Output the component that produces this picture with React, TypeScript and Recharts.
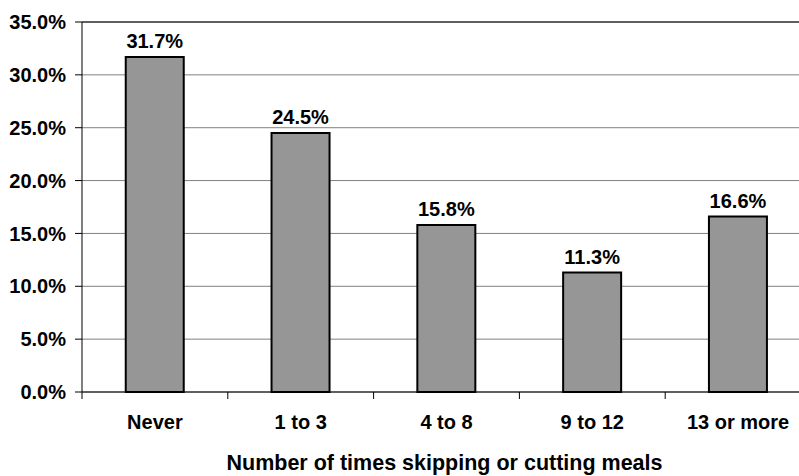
import { BarChart, Bar, XAxis, YAxis, CartesianGrid, LabelList, ReferenceLine } from 'recharts';

const categories = ['Never', '1 to 3', '4 to 8', '9 to 12', '13 or more'];
const shares = [0.317, 0.245, 0.158, 0.113, 0.166];
const yTicks = [0, 0.05, 0.1, 0.15, 0.2, 0.25, 0.3, 0.35];

const data = categories.map((name, i) => ({ name, share: shares[i] }));

const FONT = '"Liberation Sans", Arial, sans-serif';
const CHART_W = 812;
const CHART_H = 476;
const Y_AXIS_W = 82;
const MARGIN_R = 1;

const pct = (v: number) => `${(v * 100).toFixed(1)}%`;

// excel-style ticks: marks sit between categories, not under them
function CategoryTick(props: any) {
  const { x, y, payload, index } = props;
  const half = payload?.offset ?? (CHART_W - Y_AXIS_W - MARGIN_R) / categories.length / 2;
  return (
    <g>
      <line x1={x - half} x2={x - half} y1={y} y2={y + 7} stroke="#000" strokeWidth={1} />
      {index === categories.length - 1 && (
        <line x1={x + half} x2={x + half} y1={y} y2={y + 7} stroke="#000" strokeWidth={1} />
      )}
      <text x={x} y={y + 37} textAnchor="middle" fontFamily={FONT} fontWeight="bold" fontSize={20} fill="#000">
        {payload.value}
      </text>
    </g>
  );
}

export default function App() {
  return (
    <div style={{ position: 'fixed', left: 0, top: 0, width: 799, height: 476, overflow: 'hidden', background: '#fff' }}>
      <BarChart
        width={CHART_W}
        height={CHART_H}
        data={data}
        margin={{ top: 22, right: MARGIN_R, left: 0, bottom: 0 }}
        barCategoryGap="30%"
      >
        <CartesianGrid horizontal vertical={false} stroke="#808080" strokeWidth={1} />
        <XAxis
          dataKey="name"
          height={84}
          tickSize={0}
          tickMargin={0}
          tickLine={false}
          axisLine={{ stroke: '#000', strokeWidth: 1 }}
          tick={<CategoryTick />}
          interval={0}
          label={{
            value: 'Number of times skipping or cutting meals',
            position: 'insideBottom',
            offset: 6,
            dx: -2,
            fontFamily: FONT,
            fontWeight: 'bold',
            fontSize: 21.5,
            fill: '#000',
          }}
        />
        <YAxis
          width={Y_AXIS_W}
          domain={[0, 0.35]}
          ticks={yTicks}
          tickFormatter={pct}
          tickSize={7}
          tickMargin={9}
          axisLine={{ stroke: '#000', strokeWidth: 1 }}
          tickLine={{ stroke: '#000' }}
          tick={{ fontFamily: FONT, fontWeight: 'bold', fontSize: 20, fill: '#000' }}
        />
        <ReferenceLine y={0.35} stroke="#000" strokeWidth={1} />
        <Bar dataKey="share" fill="#969696" stroke="#000" strokeWidth={2} isAnimationActive={false}>
          <LabelList
            dataKey="share"
            position="top"
            offset={9}
            formatter={(v: any) => pct(Number(v))}
            style={{ fontFamily: FONT, fontWeight: 'bold', fontSize: 20, fill: '#000' }}
          />
        </Bar>
      </BarChart>
    </div>
  );
}
